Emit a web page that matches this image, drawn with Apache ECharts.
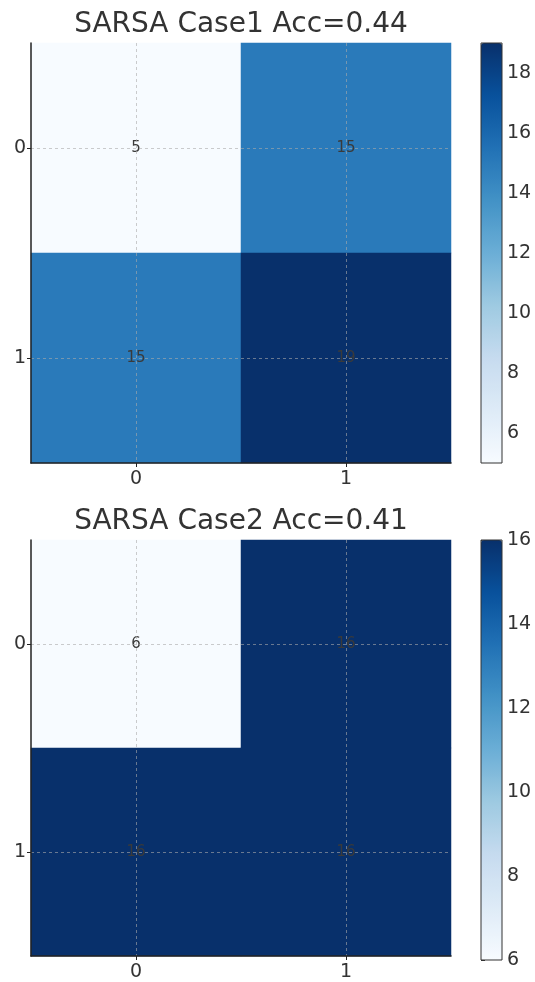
<!DOCTYPE html>
<html><head><meta charset="utf-8">
<script src="https://cdn.jsdelivr.net/npm/echarts@6/dist/echarts.min.js"></script>
<style>html,body{margin:0;padding:0;background:#fff}#c{width:535px;height:982px}</style>
</head><body><div id="c"></div>
<script>
const xCats = ['0', '1'];
const yCats = ['0', '1'];
const titles = ['SARSA Case1 Acc=0.44', 'SARSA Case2 Acc=0.41'];
// matrix rows (true label) x cols (pred)
const case1 = [[5, 15], [15, 19]];
const case2 = [[6, 16], [16, 16]];
const range1 = [5, 19];
const range2 = [6, 16];
const cbTicks1 = [6, 8, 10, 12, 14, 16, 18];
const cbTicks2 = [6, 8, 10, 12, 14, 16];
const blues = ['#f7fbff','#deebf7','#c6dbef','#9ecae1','#6baed6','#4292c6','#2171b5','#08519c','#08306b'];

const FONT = 'DejaVu Sans';
const TXT = '#333';
const tops = [43, 540];
const H = 420;
const mats = [case1, case2];
const ranges = [range1, range2];
const cbTicks = [cbTicks1, cbTicks2];

const option = {
  animation: false,
  backgroundColor: '#fff',
  textStyle: {fontFamily: FONT},
  title: [], grid: [], xAxis: [], yAxis: [], visualMap: [], series: []
};

mats.forEach((m, k) => {
  const top = tops[k];
  option.title.push({
    text: titles[k], left: 241, top: top - 32, textAlign: 'center', padding: 0,
    textStyle: {fontFamily: FONT, fontSize: 28, fontWeight: 'normal', color: TXT}
  });
  option.grid.push({left: 31, top: top, width: 420, height: H});
  option.grid.push({left: 481, top: top, width: 21, height: H, show: true,
    borderColor: '#333', borderWidth: 1, backgroundColor: 'transparent', z: 10});
  const gH = 2 * k, gC = 2 * k + 1;
  option.xAxis.push({
    type: 'category', gridIndex: gH, data: xCats, position: 'bottom',
    axisLine: {show: true, lineStyle: {color: '#222', width: 1.5}},
    axisTick: {show: true, alignWithLabel: true, length: 4, lineStyle: {color: '#222'}},
    axisLabel: {fontFamily: FONT, fontSize: 19, color: TXT, margin: 7},
    splitLine: {show: false}, z: 5
  });
  option.yAxis.push({
    type: 'category', gridIndex: gH, data: yCats, inverse: true, position: 'left',
    axisLine: {show: true, lineStyle: {color: '#222', width: 1.5}},
    axisTick: {show: true, alignWithLabel: true, length: 4, lineStyle: {color: '#222'}},
    axisLabel: {fontFamily: FONT, fontSize: 19, color: TXT, margin: 5},
    splitLine: {show: false}, z: 5
  });
  option.xAxis.push({type: 'value', gridIndex: gC, show: false, min: 0, max: 1});
  option.yAxis.push({
    type: 'value', gridIndex: gC, min: ranges[k][0], max: ranges[k][1], position: 'right',
    axisLine: {show: false},
    axisTick: {show: true, length: 4, customValues: cbTicks[k], lineStyle: {color: '#333'}},
    axisLabel: {fontFamily: FONT, fontSize: 19, color: TXT, margin: 5, customValues: cbTicks[k]},
    splitLine: {show: false}
  });
  const data = [];
  m.forEach((row, r) => row.forEach((v, c) => data.push([c, r, v])));
  option.visualMap.push({
    type: 'continuous', seriesIndex: k, min: ranges[k][0], max: ranges[k][1],
    left: 481, top: top, itemWidth: 21, itemHeight: H, padding: 0,
    calculable: false, text: null, showLabel: false, realtime: false,
    inRange: {color: blues}, hoverLink: false
  });
  option.series.push({
    type: 'heatmap', xAxisIndex: 2 * k, yAxisIndex: 2 * k, data: data,
    label: {show: true, fontFamily: FONT, fontSize: 15, color: '#3a3a3a',
      textBorderWidth: 0, formatter: p => String(p.value[2])},
    itemStyle: {borderWidth: 0},
    emphasis: {disabled: true},
    markLine: {
      silent: true, symbol: 'none', label: {show: false}, animation: false,
      lineStyle: {type: [3, 3], color: 'rgba(170,170,170,0.6)', width: 1},
      data: xCats.map(c => ({xAxis: c})).concat(yCats.map(c => ({yAxis: c})))
    }
  });
});

const chart = echarts.init(document.getElementById('c'), null, {renderer: 'canvas'});
chart.setOption(option);
</script>
</body></html>
